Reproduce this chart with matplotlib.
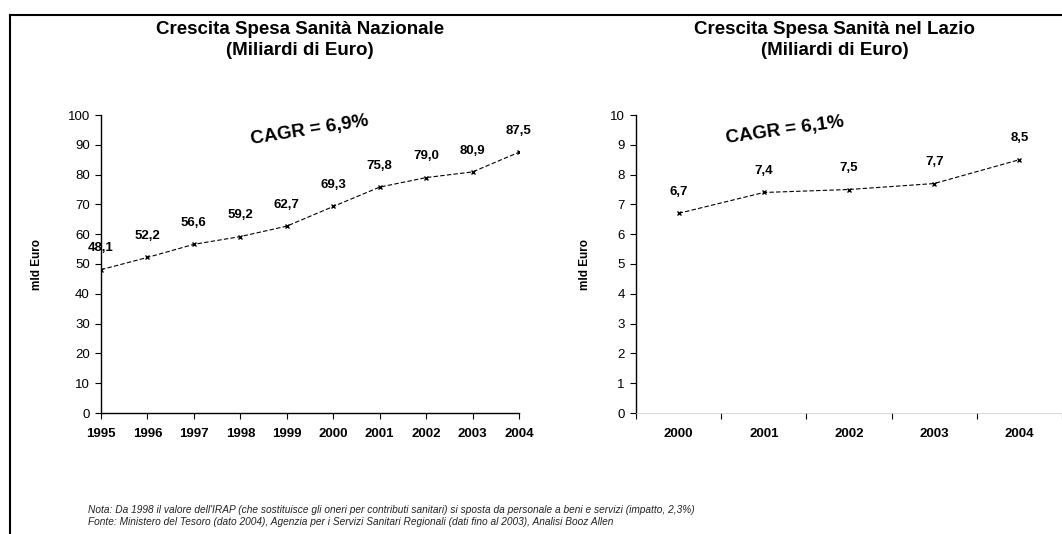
"""Crescita spesa sanita: nazionale vs Lazio"""

import matplotlib.pyplot as plt
from matplotlib.lines import Line2D

plt.rcParams['font.family'] = ['Liberation Sans', 'DejaVu Sans']

# dati
anni_naz = [1995, 1996, 1997, 1998, 1999, 2000, 2001, 2002, 2003, 2004]
spesa_naz = [48.1, 52.2, 56.6, 59.2, 62.7, 69.3, 75.8, 79.0, 80.9, 87.5]
anni_lazio = ['2000', '2001', '2002', '2003', '2004']
spesa_lazio = [6.7, 7.4, 7.5, 7.7, 8.5]

titolo_naz = 'Crescita Spesa Sanità Nazionale\n(Miliardi di Euro)'
titolo_lazio = 'Crescita Spesa Sanità nel Lazio\n(Miliardi di Euro)'
cagr_naz = 'CAGR = 6,9%'
cagr_lazio = 'CAGR = 6,1%'
nota = ("Nota: Da 1998 il valore dell'IRAP (che sostituisce gli oneri per contributi sanitari) "
        "si sposta da personale a beni e servizi (impatto, 2,3%)")
fonte = ("Fonte: Ministero del Tesoro (dato 2004), Agenzia per i Servizi Sanitari Regionali "
         "(dati fino al 2003), Analisi Booz Allen")

W, H = 1062, 534
fig = plt.figure(figsize=(W / 100, H / 100), dpi=100)


def fmt(v):
    return f'{v:.1f}'.replace('.', ',')


def style(ax):
    for s in ['top', 'right']:
        ax.spines[s].set_visible(False)
    ax.spines['left'].set_linewidth(1.0)
    ax.spines['bottom'].set_linewidth(1.0)
    ax.tick_params(axis='both', direction='out', length=4, width=0.8, color='black')
    ax.tick_params(axis='y', labelsize=9.5, pad=4)
    ax.tick_params(axis='x', labelsize=9.5, pad=7)
    for lab in ax.get_xticklabels():
        lab.set_fontweight('bold')


# grafico nazionale
ax1 = fig.add_axes([101 / W, 1 - 413 / H, (519 - 101) / W, (413 - 115) / H])
ax1.plot(anni_naz, spesa_naz, color='black', lw=0.8, ls=(0, (4, 2)),
         marker='x', ms=3, mew=1)
ax1.set_xlim(1995, 2004)
ax1.set_ylim(0, 100)
ax1.set_xticks(anni_naz)
ax1.set_yticks(range(0, 101, 10))
style(ax1)
ax1.set_ylabel('mld Euro', fontsize=8.5, fontweight='bold', labelpad=18)
for x, v in zip(anni_naz, spesa_naz):
    ax1.annotate(fmt(v), (x, v), xytext=(0, 11), textcoords='offset points',
                 ha='center', va='bottom', fontsize=9.5, fontweight='bold')
ax1.text(0.5, 0.95, cagr_naz, transform=ax1.transAxes, rotation=9,
         ha='center', va='center', fontsize=13.5, fontweight='bold')
fig.text(300 / W, 1 - 40 / H, titolo_naz, ha='center', va='center',
         fontsize=13.5, fontweight='bold', linespacing=1.25)

# grafico Lazio
ax2 = fig.add_axes([636 / W, 1 - 413 / H, (1062 - 636) / W, (413 - 115) / H])
xs = range(len(anni_lazio))
ax2.plot(xs, spesa_lazio, color='black', lw=0.8, ls=(0, (4, 2)),
         marker='x', ms=3, mew=1)
ax2.set_xlim(-0.5, len(anni_lazio) - 0.5)
ax2.set_ylim(0, 10)
ax2.set_yticks(range(0, 11))
ax2.set_xticks([i - 0.5 for i in range(len(anni_lazio) + 1)])
ax2.set_xticklabels([])
ax2.set_xticks(list(xs), minor=True)
ax2.set_xticklabels(anni_lazio, minor=True)
style(ax2)
ax2.tick_params(axis='x', which='minor', length=0, labelsize=9.5, pad=11)
for lab in ax2.get_xticklabels(minor=True):
    lab.set_fontweight('bold')
ax2.spines['bottom'].set_color('#cccccc')
ax2.spines['bottom'].set_linewidth(0.5)
ax2.set_ylabel('mld Euro', fontsize=8.5, fontweight='bold', labelpad=14)
for x, v in zip(xs, spesa_lazio):
    ax2.annotate(fmt(v), (x, v), xytext=(0, 11), textcoords='offset points',
                 ha='center', va='bottom', fontsize=9.5, fontweight='bold')
ax2.text(0.35, 0.95, cagr_lazio, transform=ax2.transAxes, rotation=8,
         ha='center', va='center', fontsize=13.5, fontweight='bold')
fig.text(835 / W, 1 - 40 / H, titolo_lazio, ha='center', va='center',
         fontsize=13.5, fontweight='bold', linespacing=1.25)

# cornice
fig.add_artist(Line2D([10 / W, 10 / W], [0, 1 - 15 / H], color='black', lw=1.5,
                      transform=fig.transFigure))
fig.add_artist(Line2D([10 / W, 1], [1 - 15 / H, 1 - 15 / H], color='black', lw=1.5,
                      transform=fig.transFigure))

# note
fig.text(88 / W, 1 - 510 / H, nota, ha='left', va='center', fontsize=7.3,
         style='italic', color='#222222')
fig.text(88 / W, 1 - 522 / H, fonte, ha='left', va='center', fontsize=7.3,
         style='italic', color='#222222')

plt.savefig('out.png', dpi=100)
